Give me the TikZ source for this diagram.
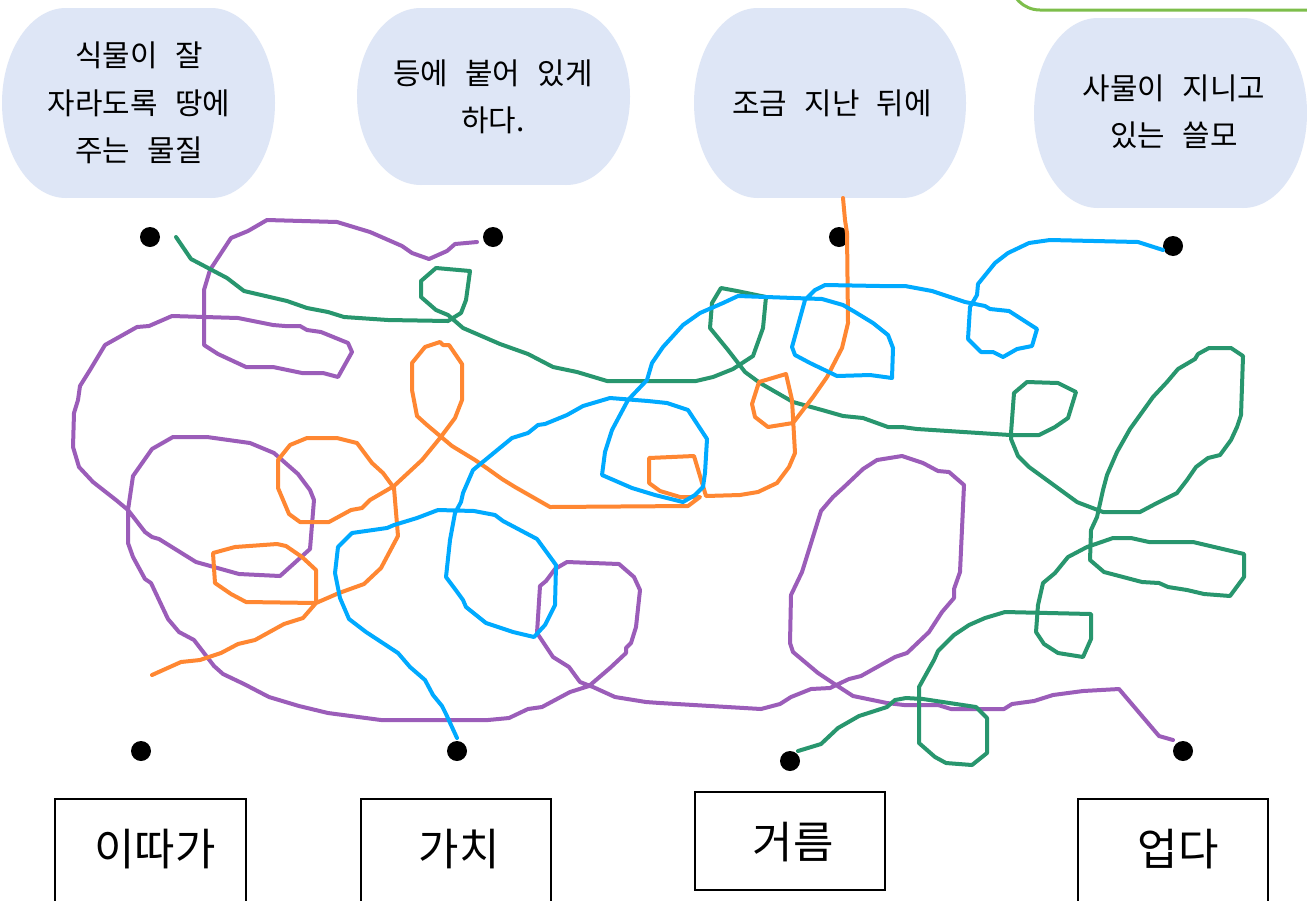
\documentclass[tikz,border=0pt]{standalone}
\usepackage{fontspec}
\usepackage{tikz}

\newfontfamily\kr[WordSpace=2.6]{Noto Sans CJK KR}

\definecolor{bubblefill}{RGB}{222,230,246}
\definecolor{linepurple}{RGB}{155,93,185}
\definecolor{linegreen}{RGB}{40,150,110}
\definecolor{lineorange}{RGB}{255,135,50}
\definecolor{lineblue}{RGB}{0,170,255}
\definecolor{answergreen}{RGB}{125,190,75}

\tikzset{
	curve/.style={line width=0.08cm, line join=round, line cap=round},
	dot/.style={circle, fill=black, inner sep=0pt, minimum size=0.4cm},
	wordbox/.style={draw=black, line width=0.6pt},
	word/.style={font=\kr\fontsize{25}{29}\selectfont},
	meaning/.style={align=center, font=\kr\fontsize{17}{27}\selectfont},
}

% bubble: x0, y0, x1, y1
\newcommand{\bubble}[4]{%
	\fill[bubblefill] ({#1+64},#2) rectangle ({#3-64},#4);
	\fill[bubblefill] ({#1+64},{(#2+#4)/2}) ellipse [x radius=64, y radius={(#4-#2)/2}];
	\fill[bubblefill] ({#3-64},{(#2+#4)/2}) ellipse [x radius=64, y radius={(#4-#2)/2}];
}

\begin{document}
\begin{tikzpicture}[x=0.02cm, y=-0.02cm]
		\useasboundingbox (0,0) rectangle (1307,900);
		\begin{scope}                           % page
			\clip (0,0) rectangle (1307,900);
			\fill[white] (0,0) rectangle (1307,900);
			\draw[answergreen, line width=0.06cm, rounded corners=0.6cm] (1010,-60) rectangle (1360,10);

			% meanings
			\bubble{2}{8}{275}{198}
			\bubble{357}{8}{630}{185}
			\bubble{694}{8}{966}{198}
			\bubble{1034}{18}{1307}{208}
			\node[meaning] (q1) at (139,103) {식물이 잘\\자라도록 땅에\\주는 물질};
			\node[meaning] (q2) at (493,97) {등에 붙어 있게\\하다.};
			\node[meaning] (q3) at (832,103) {조금 지난 뒤에};
			\node[meaning] (q4) at (1174,112) {사물이 지니고\\있는 쓸모};

			% words
			\draw[wordbox] (55,799) rectangle (246,910);
			\draw[wordbox] (361,799) rectangle (551,910);
			\draw[wordbox] (695,792) rectangle (885,890);
			\draw[wordbox] (1078,799) rectangle (1268,910);
			\node[word] (w1) at (155,849) {이따가};
			\node[word] (w2) at (459,849) {가치};
			\node[word] (w3) at (793,842) {거름};
			\node[word] (w4) at (1178,849) {업다};

			% dots
			\node[dot] (t1) at (150,237) {};
			\node[dot] (t2) at (493,237) {};
			\node[dot] (t3) at (839,237) {};
			\node[dot] (t4) at (1173,246) {};
			\node[dot] (b1) at (141,751) {};
			\node[dot] (b2) at (457,751) {};
			\node[dot] (b3) at (790,761) {};
			\node[dot] (b4) at (1183,751) {};

			% line ends
			\coordinate (pA) at (477,242);
			\coordinate (pB) at (1173,740);
			\coordinate (gA) at (176,237);
			\coordinate (gB) at (798,751);
			\coordinate (oA) at (843,198);
			\coordinate (oB) at (152,675);
			\coordinate (bA) at (1163,250);
			\coordinate (bB) at (457,738);

			\draw[curve, linepurple] (pA) -- plot coordinates {(455,244) (447,251) (429,259) (412,253) (402,246) (370,232) (337,222) (267,220) (248,231) (231,238) (210,270) (204,290) (204,345) (218,354) (246,367) (273,367) (302,373) (323,373) (338,377) (352,352) (348,343) (321,332) (307,330) (300,326) (285,326) (273,325) (238,318) (172,316) (149,326) (137,327) (105,345) (90,370) (80,386) (78,400) (74,413) (73,447) (79,467) (93,482) (116,500) (128,510) (145,532) (152,537) (159,539) (196,562) (239,574) (280,576) (310,549) (314,500) (310,490) (298,474) (274,453) (250,443) (207,437) (173,437) (152,449) (133,476) (128,510) (128,543) (133,557) (145,579) (151,583) (168,619) (179,632) (194,640) (214,666) (223,674) (244,684) (269,697) (299,706) (328,713) (381,720) (488,720) (509,718) (528,709) (542,707) (570,692) (589,686) (610,668) (626,653) (626,648) (631,643) (636,627) (640,590) (634,577) (619,564) (567,562) (555,569) (546,581) (540,586) (537,633) (553,657) (569,667) (580,682) (593,687) (615,697) (646,702) (660,703) (761,709) (780,704) (791,697) (811,689) (830,688) (849,679) (861,676) (895,657) (907,653) (929,632) (942,612) (954,598) (954,589) (960,572) (964,485) (949,472) (938,471) (923,463) (902,456) (877,460) (863,469) (844,487) (833,497) (821,511) (812,540) (802,572) (791,595) (790,643) (793,652) (818,673) (836,685) (853,696) (887,703) (904,705) (938,705) (951,709) (1004,709) (1012,704) (1034,701) (1053,695) (1083,691) (1119,689) (1159,736)} -- (pB);

			\draw[curve, linegreen] (gA) -- plot coordinates {(191,259) (227,278) (244,291) (287,301) (307,308) (328,312) (344,317) (388,320) (448,321) (461,313) (466,300) (470,271) (436,268) (421,281) (421,297) (436,310) (448,315) (463,328) (500,344) (528,354) (553,367) (577,372) (607,381) (696,381) (713,377) (733,369) (753,356) (763,328) (766,297) (737,291) (721,288) (712,303) (710,328) (728,350) (745,372) (760,383) (793,402) (822,410) (843,416) (863,418) (888,427) (902,427) (917,429) (1010,435) (1039,435) (1055,427) (1068,418) (1076,392) (1058,383) (1027,382) (1014,393) (1011,433) (1011,439) (1018,456) (1029,467) (1077,502) (1082,504) (1103,512) (1140,512) (1157,503) (1177,493) (1187,480) (1196,467) (1208,458) (1220,455) (1231,440) (1237,427) (1241,415) (1243,356) (1231,348) (1209,348) (1198,354) (1195,359) (1178,369) (1167,382) (1153,397) (1130,429) (1117,452) (1107,475) (1103,490) (1097,517) (1091,530) (1090,560) (1104,572) (1142,582) (1159,583) (1168,587) (1187,590) (1204,594) (1230,596) (1244,577) (1244,554) (1193,542) (1149,542) (1131,538) (1113,538) (1087,547) (1068,557) (1055,573) (1043,583) (1038,605) (1036,632) (1044,644) (1058,653) (1083,657) (1091,639) (1091,614) (1005,612) (985,618) (969,625) (954,635) (938,651) (934,660) (919,687) (919,743) (935,757) (946,763) (972,765) (987,753) (987,718) (976,707) (923,699) (906,698) (895,700) (887,707) (859,716) (838,728) (821,744)} -- (gB);

			\draw[curve, lineorange] (oA) -- plot coordinates {(845,220) (847,233) (848,323) (842,348) (827,377) (813,397) (793,423) (768,427) (755,417) (752,404) (759,382) (786,374) (792,400) (795,453) (789,467) (777,483) (758,492) (740,495) (706,496) (694,456) (649,458) (649,483) (660,491) (680,497) (700,497) (688,506) (550,507) (515,487) (502,479) (488,469) (475,460) (452,446) (427,425) (417,416) (412,390) (412,363) (425,347) (440,342) (443,345) (449,345) (462,364) (462,400) (455,418) (440,438) (422,460) (394,486) (370,500) (362,508) (351,510) (329,522) (300,522) (289,514) (278,488) (278,460) (290,445) (307,438) (337,438) (357,443) (372,463) (383,473) (394,488) (398,536) (381,568) (364,584) (339,593) (316,603) (246,602) (231,594) (215,583) (213,553) (235,547) (277,544) (286,546) (302,557) (316,570) (316,603) (303,618) (284,624) (255,640) (238,644) (221,653) (200,660) (181,662)} -- (oB);

			\draw[curve, lineblue] (bA) -- plot coordinates {(1138,242) (1050,240) (1029,243) (1008,253) (995,263) (978,284) (977,295) (970,307) (968,339) (981,352) (993,352) (1003,357) (1017,349) (1032,346) (1037,329) (1009,311) (990,309) (985,306) (965,302) (932,291) (905,286) (880,286) (825,285) (815,290) (805,300) (792,347) (795,355) (810,363) (837,376) (870,375) (892,378) (893,348) (888,335) (873,323) (855,312) (843,305) (822,299) (738,296) (723,303) (700,313) (683,325) (663,347) (652,363) (647,380) (628,400) (612,430) (605,452) (602,475) (632,488) (655,495) (683,502) (695,495) (703,487) (705,473) (707,439) (688,410) (667,403) (648,401) (610,398) (583,406) (567,415) (545,424) (538,425) (528,433) (512,438) (501,447) (473,470) (463,493) (461,502) (455,513) (450,540) (446,577) (455,589) (463,600) (466,607) (486,623) (513,632) (534,637) (545,625) (555,605) (556,565) (537,539) (503,521) (495,515) (474,511) (438,510) (417,518) (394,525) (387,528) (352,533) (338,547) (335,573) (340,598) (349,619) (366,632) (398,653) (410,667) (425,680) (433,695) (442,706) (446,714)} -- (bB);
		\end{scope}
	\end{tikzpicture}
\end{document}
